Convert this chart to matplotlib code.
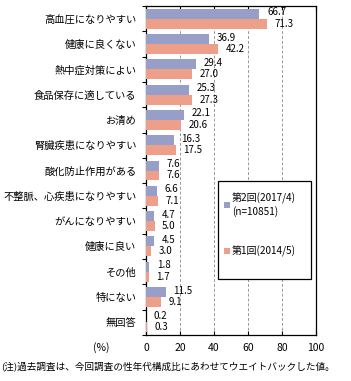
import matplotlib
matplotlib.use('Agg')
import matplotlib.pyplot as plt
from matplotlib.patches import Rectangle
import numpy as np

plt.rcParams['font.family'] = ['Noto Sans CJK JP', 'DejaVu Sans']

# データ
categories = ['高血圧になりやすい', '健康に良くない', '熱中症対策によい', '食品保存に適している',
              'お清め', '腎臓疾患になりやすい', '酸化防止作用がある', '不整脈、心疾患になりやすい',
              'がんになりやすい', '健康に良い', 'その他', '特にない', '無回答']
round2 = [66.7, 36.9, 29.4, 25.3, 22.1, 16.3, 7.6, 6.6, 4.7, 4.5, 1.8, 11.5, 0.2]
round1 = [71.3, 42.2, 27.0, 27.3, 20.6, 17.5, 7.6, 7.1, 5.0, 3.0, 1.7, 9.1, 0.3]
label2 = '第2回(2017/4)\n(n=10851)'
label1 = '第1回(2014/5)'
xticks = [0, 20, 40, 60, 80, 100]

c_blue = '#979ec7'
c_red = '#ee9f89'

fig = plt.figure(figsize=(3.51, 3.81), dpi=100)
ax = fig.add_axes([146/351, 1 - 335/381, 170/351, 329/381])

n = len(categories)
y = np.arange(n)
h = 0.395
ax.barh(y - h/2, round2, height=h, color=c_blue, label=label2, zorder=3)
ax.barh(y + h/2, round1, height=h, color=c_red, label=label1, zorder=3)

for yi, v in zip(y, round2):
    ax.annotate(f'{v:.1f}', (v, yi - h/2), xytext=(5.5, 1), textcoords='offset points',
                va='center', ha='left', fontsize=7, zorder=5)
for yi, v in zip(y, round1):
    ax.annotate(f'{v:.1f}', (v, yi + h/2), xytext=(5.5, 0), textcoords='offset points',
                va='center', ha='left', fontsize=7, zorder=5)

ax.set_xlim(0, 100)
ax.set_ylim(n - 0.5, -0.5)
ax.set_xticks(xticks)
ax.set_xticklabels([str(t) for t in xticks], fontsize=7.5)
ax.set_yticks(y)
ax.set_yticklabels(categories, fontsize=7.4)
ax.set_yticks(np.arange(n + 1) - 0.5, minor=True)
ax.tick_params(axis='y', which='major', length=0, pad=7)
ax.tick_params(axis='y', which='minor', length=3, direction='out', width=0.8)
ax.tick_params(axis='x', direction='in', length=3, top=True, width=0.8, pad=6)
for sp in ax.spines.values():
    sp.set_linewidth(0.9)

for t in xticks[1:-1]:
    ax.axvline(t, color='#999999', linestyle=(0, (3, 2)), linewidth=0.7, zorder=1)

# 凡例の枠
ax.add_patch(Rectangle((72/170, 1 - 273/329), 93/170, 98/329, transform=ax.transAxes,
                       facecolor='white', edgecolor='black', linewidth=0.9, zorder=6))
leg = ax.legend(loc='upper left', bbox_to_anchor=(78/170, 1 - 187/329), fontsize=7.2,
                frameon=False, handlelength=0.55, handleheight=0.55, handletextpad=0.25,
                labelspacing=2.9, borderpad=0, borderaxespad=0)
leg.set_zorder(7)

fig.text(101/351, 1 - 348/381, '(%)', fontsize=7.5, ha='center', va='center')
fig.text(1/351, 1 - 366/381, '(注)過去調査は、今回調査の性年代構成比にあわせてウエイトバックした値。',
         fontsize=6.9, ha='left', va='center')

fig.savefig('out.png', dpi=100)
